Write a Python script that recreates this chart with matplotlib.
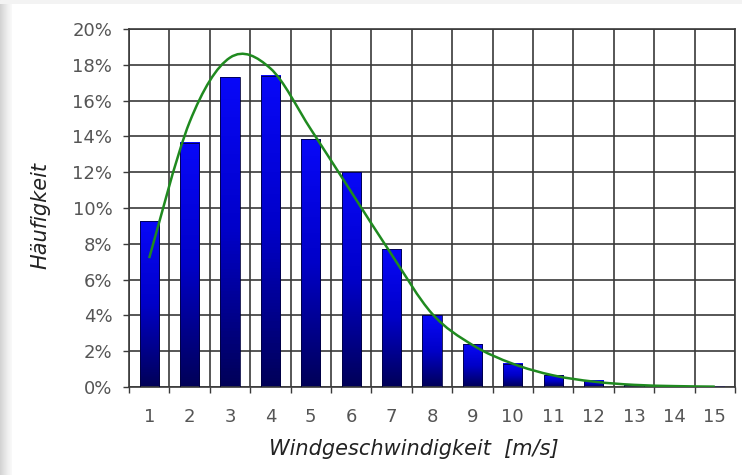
from matplotlib import pyplot as plt
from matplotlib.path import Path
from matplotlib.patches import PathPatch
from matplotlib.colors import LinearSegmentedColormap
import numpy as np

# the source chart is Arial stretched sideways; DejaVu Sans has about that width
plt.rcParams['font.family'] = ['DejaVu Sans']

# wind speed classes and measured frequencies (%)
speeds = [1, 2, 3, 4, 5, 6, 7, 8, 9, 10, 11, 12, 13, 14, 15]
freq = [9.25, 13.65, 17.3, 17.4, 13.85, 12.0, 7.7, 4.0, 2.4, 1.3, 0.65, 0.35, 0.12, 0.05, 0.02]
# fitted distribution read at each class (%)
fit = [7.2, 14.8, 18.4, 17.8, 14.4, 10.9, 7.4, 4.1, 2.35, 1.3, 0.65, 0.3, 0.12, 0.05, 0.02]
yticks = [0, 2, 4, 6, 8, 10, 12, 14, 16, 18, 20]

fig = plt.figure(figsize=(7.42, 4.75), dpi=100)
fig.patch.set_facecolor('white')

# grey frame strips of the screenshot
strip = fig.add_axes([0, 0, 12 / 742, 1])
strip.imshow(np.linspace(0, 1, 50).reshape(1, -1), cmap='Greys_r', vmin=-3, vmax=1.2,
             aspect='auto', extent=[0, 1, 0, 1])
strip.axis('off')
top = fig.add_axes([0, 1 - 4 / 475, 1, 4 / 475])
top.axis('off')
top.add_patch(plt.Rectangle((0, 0), 1, 1, color='#f3f3f3', transform=top.transAxes))

ax = fig.add_axes([129 / 742, 1 - 387 / 475, 606 / 742, 358 / 475])
ax.set_xlim(0.5, 15.5)
ax.set_ylim(0, 20)

grid_col = '#3a3a3a'
for v in yticks:
    ax.axhline(v, color=grid_col, lw=1.2, zorder=1)
for b in np.arange(0.5, 16, 1):
    ax.axvline(b, color=grid_col, lw=1.2, zorder=1)

# bars with vertical gradient (navy bottom -> blue top)
grad = np.linspace(0, 1, 100).reshape(-1, 1)
cmap = LinearSegmentedColormap.from_list('bb', ['#0808f8', '#0000c8', '#000058'])
w = 0.48
for s, f in zip(speeds, freq):
    ax.imshow(grad, cmap=cmap, aspect='auto', extent=[s - w / 2, s + w / 2, 0, f],
              origin='upper', zorder=2)
    ax.add_patch(plt.Rectangle((s - w / 2, 0), w, f, fill=False, ec='#000040', lw=0.6, zorder=3))

# smoothed line through the fit values (bezier segments)
pts = np.column_stack([speeds, fit])
verts = [tuple(pts[0])]
codes = [Path.MOVETO]
n = len(pts)
for i in range(n - 1):
    p0 = pts[max(i - 1, 0)]
    p1 = pts[i]
    p2 = pts[i + 1]
    p3 = pts[min(i + 2, n - 1)]
    c1 = p1 + (p2 - p0) / 6
    c2 = p2 - (p3 - p1) / 6
    verts += [tuple(c1), tuple(c2), tuple(p2)]
    codes += [Path.CURVE4] * 3
ax.add_patch(PathPatch(Path(verts, codes), fill=False, ec='#1f8a1f', lw=1.8, zorder=4))

ax.set_xticks(speeds)
ax.set_xticklabels([str(s) for s in speeds])
ax.set_xticks(np.arange(0.5, 16, 1), minor=True)
ax.set_yticks(yticks)
ax.set_yticklabels([f'{v}%' for v in yticks])
ax.tick_params(axis='x', which='major', length=0, pad=15, labelsize=13, labelcolor='#555555')
ax.tick_params(axis='x', which='minor', length=4, width=1, color=grid_col, direction='out')
ax.tick_params(axis='y', length=4, width=1, color=grid_col, direction='out', pad=8,
               labelsize=13, labelcolor='#555555')
for sp in ax.spines.values():
    sp.set_color(grid_col)
    sp.set_linewidth(1.2)

ax.set_xlabel('Windgeschwindigkeit  [m/s]', fontsize=15, style='italic', color='#222222')
ax.set_ylabel('Häufigkeit', fontsize=15, style='italic', color='#222222')
ax.xaxis.set_label_coords(0.47, -0.145)
ax.yaxis.set_label_coords(-0.13, 0.48)

fig.savefig('out.png', dpi=100)
